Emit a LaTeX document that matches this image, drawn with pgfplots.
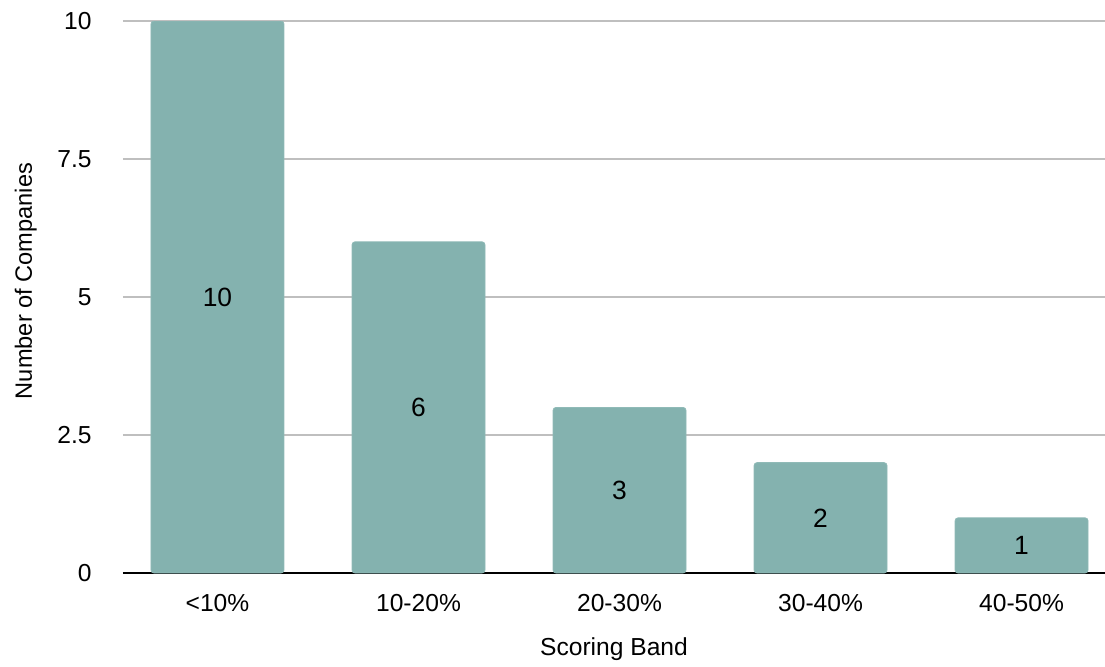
\documentclass[border=0pt]{standalone}
\usepackage{fontspec}
\setmainfont{Liberation Sans}
\usepackage{pgfplots}
\pgfplotsset{compat=1.18}
\definecolor{barcol}{HTML}{84B2AF}
\definecolor{gridcol}{HTML}{BFBFBF}
\begin{document}
\fontsize{12.3}{14}\selectfont
\begin{tikzpicture}
\begin{axis}[
  scale only axis,
  width=491pt, height=276pt,
  ymin=0, ymax=10,
  xmin=-0.47, xmax=4.415,
  ytick={0,2.5,5,7.5,10},
  yticklabels={0,2.5,5,7.5,10},
  xtick={0,1,2,3,4},
  xticklabels={<10\%,10-20\%,20-30\%,30-40\%,40-50\%},
  /pgf/number format/assume math mode=true,
  major tick length=0pt,
  ymajorgrids,
  grid style={gridcol, line width=1pt},
  axis x line*=bottom,
  axis y line*=left,
  x axis line style={black, line width=1.1pt, -},
  y axis line style={draw=none},
  tick label style={font=\fontsize{12.3}{14}\selectfont},
  yticklabel style={inner sep=0pt, anchor=east, xshift=-15.5pt},
  xticklabel style={inner sep=0pt, anchor=north, yshift=-10.5pt},
  xlabel={Scoring Band},
  ylabel={Number of Companies},
  xlabel style={font=\fontsize{12.3}{14}\selectfont, at={(axis description cs:0.5,0)}, anchor=north, inner sep=0pt, yshift=-32pt},
  ylabel style={font=\fontsize{11.8}{14}\selectfont, at={(axis description cs:0,0.5)}, anchor=base, inner sep=0pt, yshift=45.5pt, xshift=8pt},
  ybar, bar width=66.5pt,
  nodes near coords,
  visualization depends on={y \as \rawy},
  every node near coord/.append style={font=\fontsize{13.2}{15}\selectfont, black, anchor=center, yshift=-\rawy*13.8pt},
]
\addplot[fill=barcol, draw=barcol!90!white, line width=0.4pt, rounded corners=1.5pt] coordinates {(0,10) (1,6) (2,3) (3,2) (4,1)};
\end{axis}
\pgfresetboundingbox
\path[use as bounding box] (current axis.south west) ++(-61.5pt,-46.5pt) rectangle ++(552.5pt,333pt);
\end{tikzpicture}
\end{document}
